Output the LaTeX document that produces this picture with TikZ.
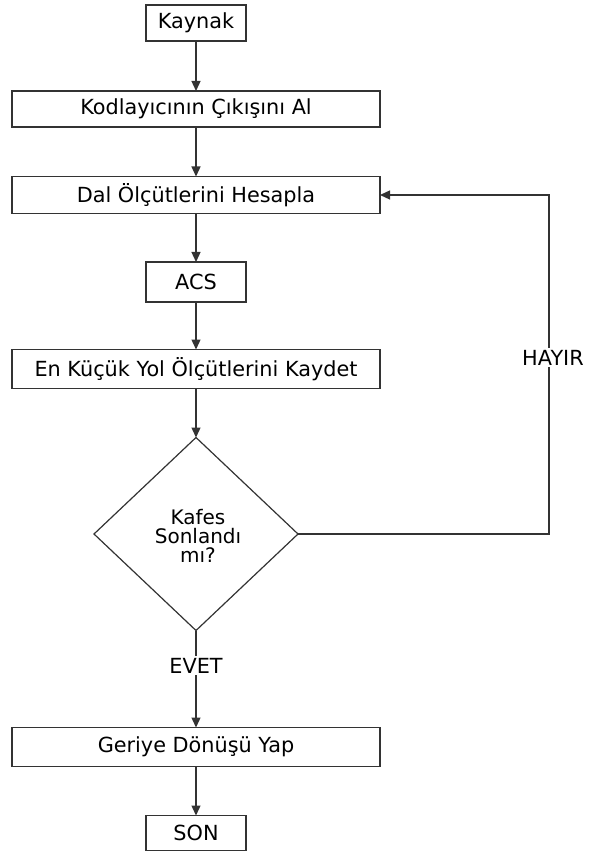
\documentclass[tikz,border=0pt]{standalone}
\usepackage{fontspec}
\setmainfont{DejaVu Sans}
\usetikzlibrary{arrows.meta,shapes.geometric}
\definecolor{ink}{HTML}{333333}
\begin{document}
\begin{tikzpicture}[x=1pt,y=-1pt,
  font=\fontsize{20.8}{23}\selectfont,
  every node/.style={inner sep=0pt, outer sep=0pt},
  stepbox/.style={draw=ink, line width=1.2pt, fill=white},
  flow/.style={draw=ink, line width=1.3pt, -{Triangle[length=10pt,width=9pt]}},
  tag/.style={fill=white, inner sep=2pt}]
\useasboundingbox (0,0) rectangle (592,858);
% process boxes, given by their corners
\node[stepbox, minimum width=100pt, minimum height=36pt] (src) at (196,23) {Kaynak};
\node[stepbox, minimum width=368pt, minimum height=36pt] (enc) at (196,109) {Kodlayıcının Çıkışını Al};
\node[stepbox, minimum width=368pt, minimum height=37pt] (bm) at (196,195) {Dal Ölçütlerini Hesapla};
\node[stepbox, minimum width=100pt, minimum height=40pt] (acs) at (196,282) {ACS};
\node[stepbox, minimum width=368pt, minimum height=39pt] (pm) at (196,369) {En Küçük Yol Ölçütlerini Kaydet};
\node[draw=ink, line width=1.2pt, diamond, minimum width=204pt, minimum height=193pt, aspect=1.06] (dec) at (196,534) {};
\node[align=center, font=\fontsize{20}{19}\selectfont] at (198,536) {Kafes\\Sonlandı\\mı?};
\node[stepbox, minimum width=368pt, minimum height=39pt] (tb) at (196,747) {Geriye Dönüşü Yap};
\node[stepbox, minimum width=100pt, minimum height=35pt] (end) at (196,833) {SON};
% loop corners
\coordinate (c1) at (549,534);
\coordinate (c2) at (549,195);
% connectors
\draw[flow] (src) -- (enc);
\draw[flow] (enc) -- (bm);
\draw[flow] (bm) -- (acs);
\draw[flow] (acs) -- (pm);
\draw[flow] (pm) -- (dec.north);
\draw[flow] (dec.south) -- node[tag, pos=0.36] {EVET} (tb);
\draw[flow] (tb) -- (end);
\draw[flow] (dec.east) -- (c1) -- node[tag, pos=0.52, xshift=4pt] {HAYIR} (c2) -- (bm.east);
\end{tikzpicture}
\end{document}
